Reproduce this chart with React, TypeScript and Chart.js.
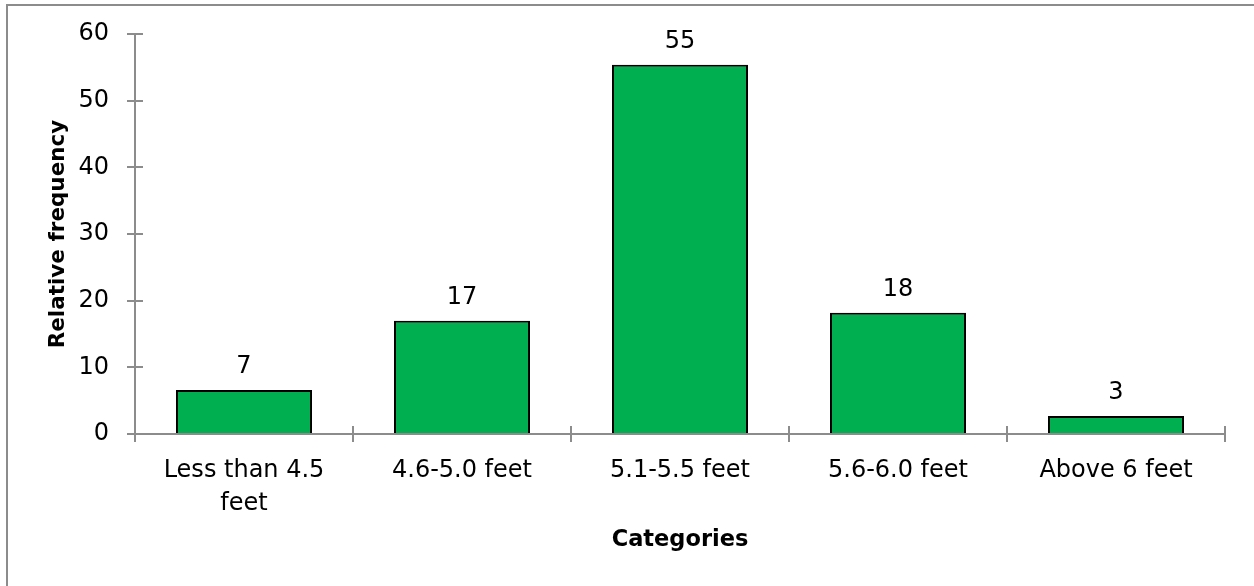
import React, { useEffect, useRef } from "react";
import { Chart, registerables } from "chart.js";

Chart.register(...registerables);

const categories: (string | string[])[] = [
  ["Less than 4.5", "feet"],
  "4.6-5.0 feet",
  "5.1-5.5 feet",
  "5.6-6.0 feet",
  "Above 6 feet",
];
const values = [6.6, 17.0, 55.4, 18.2, 2.7];
const valueLabels = ["7", "17", "55", "18", "3"];
const yTickValues = [0, 10, 20, 30, 40, 50, 60];
const yTitle = "Relative frequency";
const xTitle = "Categories";

const AXIS = "#8c8c8c";
const FONT = "'DejaVu Sans', sans-serif";

const decorPlugin = {
  id: "decor",
  beforeDraw(chart: any) {
    const ctx = chart.ctx;
    ctx.save();
    ctx.strokeStyle = AXIS;
    ctx.lineWidth = 2;
    ctx.beginPath();
    ctx.moveTo(7, 4);
    ctx.lineTo(7, chart.height);
    ctx.moveTo(6, 5);
    ctx.lineTo(chart.width, 5);
    ctx.stroke();
    ctx.restore();
  },
  afterDatasetsDraw(chart: any) {
    const ctx = chart.ctx;
    const { left, right, top, bottom } = chart.chartArea;
    const ys = chart.scales.y;
    ctx.save();
    ctx.strokeStyle = AXIS;
    ctx.lineWidth = 2;
    ctx.beginPath();
    ctx.moveTo(left, top);
    ctx.lineTo(left, bottom + 8);
    yTickValues.forEach((v) => {
      const y = Math.round(ys.getPixelForValue(v));
      ctx.moveTo(left - 8, y);
      ctx.lineTo(left + 8, y);
    });
    ctx.moveTo(left, bottom);
    ctx.lineTo(right, bottom);
    const n = categories.length;
    for (let i = 1; i <= n; i++) {
      const x = Math.round(left + (i * (right - left)) / n);
      ctx.moveTo(x, bottom - 8);
      ctx.lineTo(x, bottom + 8);
    }
    ctx.stroke();

    const meta = chart.getDatasetMeta(0);
    ctx.fillStyle = "#000";
    ctx.font = `24px ${FONT}`;
    ctx.textAlign = "center";
    ctx.textBaseline = "alphabetic";
    meta.data.forEach((bar: any, i: number) => {
      ctx.fillText(valueLabels[i], bar.x, bar.y - 17);
    });
    ctx.restore();
  },
};

export default function App() {
  const ref = useRef<HTMLCanvasElement>(null);
  useEffect(() => {
    if (!ref.current) return;
    const chart = new Chart(ref.current, {
      type: "bar",
      data: {
        labels: categories,
        datasets: [
          {
            data: values,
            backgroundColor: "#00B050",
            borderColor: "#000000",
            borderWidth: 2,
            categoryPercentage: 1,
            barPercentage: 0.624,
          },
        ],
      },
      options: {
        animation: false,
        responsive: false,
        devicePixelRatio: 1,
        layout: { padding: { left: 0, top: 34, right: 29, bottom: 0 } },
        plugins: {
          legend: { display: false },
          tooltip: { enabled: false },
        },
        scales: {
          x: {
            grid: { display: false, drawTicks: false },
            border: { display: false },
            ticks: {
              color: "#000",
              font: { family: FONT, size: 24, lineHeight: 1.38 },
              padding: 20,
              maxRotation: 0,
              autoSkip: false,
            },
            title: {
              display: true,
              text: xTitle,
              color: "#000",
              font: { family: FONT, size: 22.5, weight: "bold" },
              padding: { top: 0, bottom: 32 },
            },
            afterFit(scale: any) {
              scale.height = 152;
              scale.paddingLeft = 0;
              scale.paddingRight = 0;
            },
          },
          y: {
            min: 0,
            max: 60,
            grid: { display: false, drawTicks: false },
            border: { display: false },
            ticks: {
              stepSize: 10,
              color: "#000",
              font: { family: FONT, size: 24 },
              padding: 26,
            },
            title: {
              display: true,
              text: yTitle,
              color: "#000",
              font: { family: FONT, size: 21.5, weight: "bold" },
              padding: { top: 46, bottom: 0 },
            },
            afterFit(scale: any) {
              scale.width = 135;
              scale.paddingTop = 0;
              scale.paddingBottom = 0;
            },
          },
        },
      },
      plugins: [decorPlugin],
    });
    return () => chart.destroy();
  }, []);
  return (
    <div style={{ position: "fixed", left: 0, top: 0, width: 1254, height: 586, background: "#fff" }}>
      <canvas ref={ref} width={1254} height={586} style={{ display: "block", width: 1254, height: 586 }} />
    </div>
  );
}
